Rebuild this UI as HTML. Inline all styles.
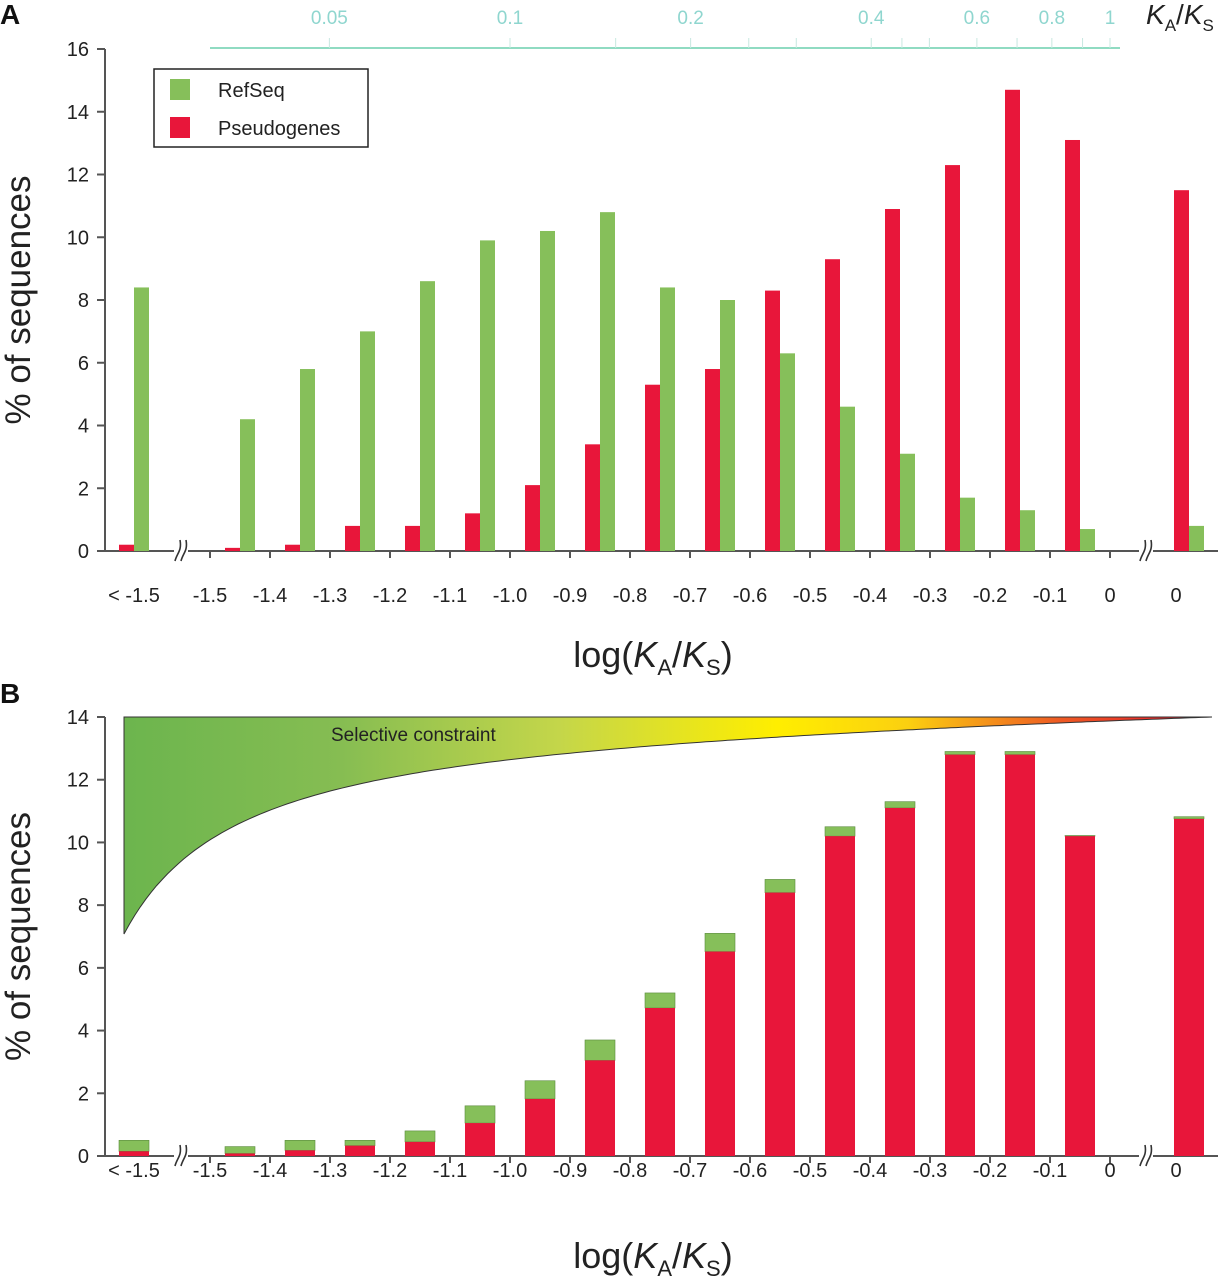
<!DOCTYPE html>
<html><head><meta charset="utf-8">
<style>
html,body{margin:0;padding:0;background:#fff;}
svg{display:block;font-family:"Liberation Sans",Arial,sans-serif;}
</style></head>
<body>
<svg id="fig" width="1221" height="1280" viewBox="0 0 1221 1280" xmlns="http://www.w3.org/2000/svg">
<defs>
<linearGradient id="wedgeGrad" x1="124" y1="0" x2="1212" y2="0" gradientUnits="userSpaceOnUse">
<stop offset="0" stop-color="#6cb54e"/>
<stop offset="0.2" stop-color="#86bd52"/>
<stop offset="0.4" stop-color="#c4d64a"/>
<stop offset="0.6" stop-color="#ffee00"/>
<stop offset="0.72" stop-color="#fbd010"/>
<stop offset="0.86" stop-color="#ee5a23"/>
<stop offset="1" stop-color="#e5102d"/>
</linearGradient>
</defs>
<g id="panelA"></g>
<g id="panelB"></g>
</svg>
<script>
const categories = ["< -1.5","-1.5","-1.4","-1.3","-1.2","-1.1","-1.0","-0.9","-0.8","-0.7","-0.6","-0.5","-0.4","-0.3","-0.2","-0.1","0"];
const tickLabels = ["-1.5","-1.4","-1.3","-1.2","-1.1","-1.0","-0.9","-0.8","-0.7","-0.6","-0.5","-0.4","-0.3","-0.2","-0.1","0"];
const refseqA = [8.4,4.2,5.8,7.0,8.6,9.9,10.2,10.8,8.4,8.0,6.3,4.6,3.1,1.7,1.3,0.7,0.8];
const pseudoA = [0.2,0.1,0.2,0.8,0.8,1.2,2.1,3.4,5.3,5.8,8.3,9.3,10.9,12.3,14.7,13.1,11.5];
const pseudoB = [0.15,0.08,0.18,0.33,0.45,1.05,1.82,3.05,4.72,6.52,8.4,10.2,11.1,12.8,12.8,10.2,10.75];
const totalB = [0.5,0.3,0.5,0.5,0.8,1.6,2.4,3.7,5.2,7.1,8.82,10.5,11.3,12.9,12.9,10.22,10.82];
const yTicksA = [0,2,4,6,8,10,12,14,16];
const yTicksB = [0,2,4,6,8,10,12,14];
const ratioLabels = [0.05,0.1,0.2,0.4,0.6,0.8,1];
const ratioMinor = [0.05,0.1,0.15,0.2,0.25,0.3,0.4,0.45,0.5,0.6,0.7,0.8,0.9,1];

const NS="http://www.w3.org/2000/svg";
const GREEN="#86bf5a", RED="#e8163a";
function mk(parent, tag, attrs, text){
  const e=document.createElementNS(NS,tag);
  for(const k in attrs) e.setAttribute(k,attrs[k]);
  if(text!==undefined) e.textContent=text;
  parent.appendChild(e); return e;
}
function xLog(v){ return 210 + (v+1.5)*600; }
function xCat(i){
  if(i===0) return 134;
  if(i===categories.length-1) return 1189;
  return xLog(-1.5 + (i-1)*0.1 + 0.05);
}
function makeY(y0, perUnit){ return v => y0 - v*perUnit; }

function drawAxes(g, yScale, ticks, y0, yTop, labelY, titleY, panelName){
  const ax=mk(g,'line',{x1:105,y1:yTop,x2:105,y2:y0+1,stroke:'#555','stroke-width':2});
  
  
  ticks.forEach(t=>{
    const y=yScale(t);
    mk(g,'line',{x1:97,y1:y,x2:105,y2:y,stroke:'#555','stroke-width':2});
    const l=mk(g,'text',{x:89,y:y+7,'text-anchor':'end','font-size':20,fill:'#222'},String(t));
    
    
  });
  const xa=mk(g,'line',{x1:105,y1:y0,x2:1218,y2:y0,stroke:'#555','stroke-width':2});
  
  
  tickLabels.forEach((t,i)=>{
    const x=xLog(-1.5+i*0.1);
    mk(g,'line',{x1:x,y1:y0,x2:x,y2:y0+7,stroke:'#555','stroke-width':2});
    const l=mk(g,'text',{x:x,y:labelY,'text-anchor':'middle','font-size':20,fill:'#222'},t);
    
    
  });
  const f=mk(g,'text',{x:134,y:labelY,'text-anchor':'middle','font-size':20,fill:'#222'},categories[0]);
  
  
  const z=mk(g,'text',{x:1176,y:labelY,'text-anchor':'middle','font-size':20,fill:'#222'},"0");
  
  
  [176,1141].forEach(bx=>{
    const b=mk(g,'g',{});
    
    
    mk(b,'rect',{x:bx-2,y:y0-3,width:14,height:6,fill:'#fff'});
    mk(b,'path',{d:`M${bx-1},${y0+10} C${bx+1},${y0+2} ${bx+6},${y0} ${bx+4},${y0-11}`,fill:'none',stroke:'#333','stroke-width':1.6});
    mk(b,'path',{d:`M${bx+5},${y0+10} C${bx+7},${y0+2} ${bx+12},${y0} ${bx+10},${y0-11}`,fill:'none',stroke:'#333','stroke-width':1.6});
  });
  const yt=mk(g,'text',{transform:`translate(30,${(y0+yTop)/2}) rotate(-90)`,'text-anchor':'middle','font-size':35,fill:'#222'},'% of sequences');
  
  
  const xt=mk(g,'text',{x:653,y:titleY,'text-anchor':'middle','font-size':36,fill:'#222'});
  
  
  xt.innerHTML='log(<tspan font-style="italic">K</tspan><tspan font-size="22" dy="8">A</tspan><tspan dy="-8">/</tspan><tspan font-style="italic">K</tspan><tspan font-size="22" dy="8">S</tspan><tspan dy="-8">)</tspan>';
}

const gA=document.getElementById('panelA');
const yA=makeY(551, 502/16);
const lA=mk(gA,'text',{x:0,y:24,'font-size':28,'font-weight':'bold',fill:'#111'},'A');


drawAxes(gA,yA,yTicksA,551,49,602,667,'panel-a');
categories.forEach((c,i)=>{
  const cx=xCat(i);
  const r=mk(gA,'rect',{x:cx-15,y:yA(pseudoA[i]),width:15,height:551-yA(pseudoA[i]),fill:RED});
  
  
  const gr=mk(gA,'rect',{x:cx,y:yA(refseqA[i]),width:15,height:551-yA(refseqA[i]),fill:GREEN});
  
  
});
const topAx=mk(gA,'g',{});


mk(topAx,'line',{x1:210,y1:48,x2:1120,y2:48,stroke:'#6ccfae','stroke-width':1.5});
ratioMinor.forEach(v=>{const x=xLog(Math.log10(v)); mk(topAx,'line',{x1:x,y1:48,x2:x,y2:38,stroke:'#c8e8e0','stroke-width':1});});
ratioLabels.forEach(v=>{
  const t=mk(topAx,'text',{x:xLog(Math.log10(v)),y:24,'text-anchor':'middle','font-size':19,fill:'#8fd6cf'},String(v));
  
  
});
const kt=mk(topAx,'text',{x:1146,y:24,'font-size':28,fill:'#222'});


kt.innerHTML='<tspan font-style="italic">K</tspan><tspan font-size="17" dy="7">A</tspan><tspan dy="-7">/</tspan><tspan font-style="italic">K</tspan><tspan font-size="17" dy="7">S</tspan>';
const leg=mk(gA,'g',{});


mk(leg,'rect',{x:154,y:69,width:214,height:78,fill:'#fff',stroke:'#222','stroke-width':1.5});
const le1=mk(leg,'g',{});


mk(le1,'rect',{x:170,y:79,width:20,height:21,fill:GREEN});
mk(le1,'text',{x:218,y:97,'font-size':20,fill:'#222'},'RefSeq');
const le2=mk(leg,'g',{});


mk(le2,'rect',{x:170,y:117,width:20,height:21,fill:RED});
mk(le2,'text',{x:218,y:135,'font-size':20,fill:'#222'},'Pseudogenes');

const gB=document.getElementById('panelB');
const yB=makeY(1156, 439/14);
const lB=mk(gB,'text',{x:0,y:703,'font-size':28,'font-weight':'bold',fill:'#111'},'B');


let pts=[];
for(let k=0;k<=200;k++){
  const t=k/200;
  const dy=217*(1/(1+9.4*t)-0.096*t);
  pts.push(`${(124+t*1088).toFixed(1)},${(717+Math.max(dy,0)).toFixed(1)}`);
}
const wedge=mk(gB,'path',{d:`M124,717 L1212,717 L${pts.reverse().join(' L')} Z`,fill:'url(#wedgeGrad)',stroke:'#333','stroke-width':1});


const wt=mk(gB,'text',{x:331,y:741,'font-size':19,fill:'#222'},'Selective constraint');


drawAxes(gB,yB,yTicksB,1156,717,1177,1268,'panel-b');
categories.forEach((c,i)=>{
  const cx=xCat(i);
  const tg=mk(gB,'rect',{x:cx-15,y:yB(totalB[i]),width:30,height:yB(pseudoB[i])-yB(totalB[i]),fill:GREEN,stroke:'#5a8a3c','stroke-width':0.6});
  
  
  const r=mk(gB,'rect',{x:cx-15,y:yB(pseudoB[i]),width:30,height:1156-yB(pseudoB[i]),fill:RED});
  
  
});
</script>
</body></html>
